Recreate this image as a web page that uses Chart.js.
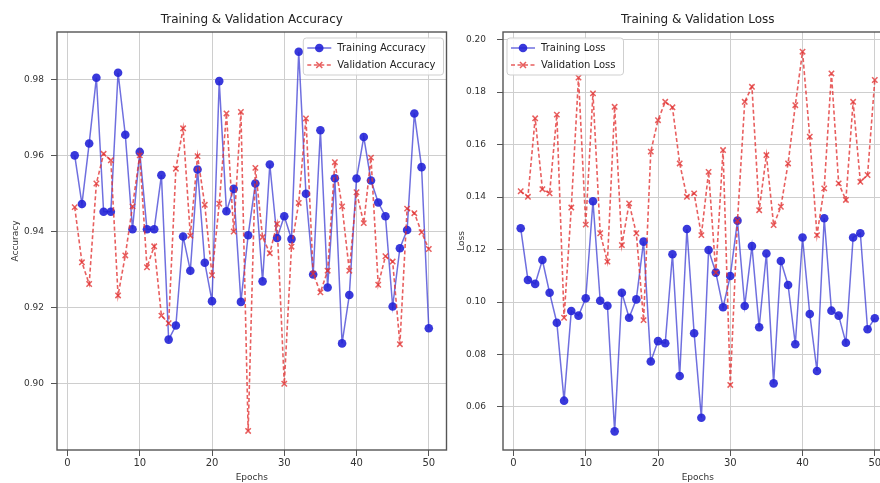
<!DOCTYPE html>
<html>
<head>
<meta charset="utf-8">
<script src="https://cdn.jsdelivr.net/npm/chart.js@4.4.1/dist/chart.umd.min.js"></script>
<style>
  html, body { margin: 0; padding: 0; background: #fff; overflow: hidden; }
  #wrap { position: relative; width: 880px; height: 483px; overflow: hidden; }
  canvas { position: absolute; top: 0; }
  #acc_chart { left: 0; }
  #loss_chart { left: 446px; }
</style>
</head>
<body>
<div id="wrap">
  <canvas id="acc_chart" width="452" height="483"></canvas>
  <canvas id="loss_chart" width="452" height="483"></canvas>
</div>
<script>
const epochs = [1, 2, 3, 4, 5, 6, 7, 8, 9, 10, 11, 12, 13, 14, 15, 16, 17, 18, 19, 20,
  21, 22, 23, 24, 25, 26, 27, 28, 29, 30, 31, 32, 33, 34, 35, 36, 37, 38, 39, 40,
  41, 42, 43, 44, 45, 46, 47, 48, 49, 50]

const train_acc = [0.9600, 0.9472, 0.9631, 0.9804, 0.9452, 0.9452, 0.9817, 0.9654, 0.9406, 0.9609,
  0.9406, 0.9406, 0.9548, 0.9116, 0.9153, 0.9387, 0.9297, 0.9563, 0.9318, 0.9217,
  0.9795, 0.9453, 0.9512, 0.9215, 0.9390, 0.9526, 0.9269, 0.9576, 0.9383, 0.9440,
  0.9380, 0.9872, 0.9499, 0.9287, 0.9666, 0.9253, 0.9540, 0.9106, 0.9233, 0.9539,
  0.9648, 0.9534, 0.9476, 0.9440, 0.9203, 0.9356, 0.9404, 0.9710, 0.9569, 0.9146]

const val_acc = [0.9464, 0.9319, 0.9262, 0.9526, 0.9604, 0.9587, 0.9232, 0.9337, 0.9466, 0.9600,
  0.9306, 0.9361, 0.9179, 0.9159, 0.9565, 0.9671, 0.9389, 0.9598, 0.9470, 0.9285,
  0.9473, 0.9710, 0.9400, 0.9714, 0.8876, 0.9567, 0.9385, 0.9343, 0.9420, 0.9000,
  0.9360, 0.9475, 0.9697, 0.9289, 0.9240, 0.9297, 0.9582, 0.9466, 0.9297, 0.9503,
  0.9422, 0.9594, 0.9260, 0.9335, 0.9321, 0.9104, 0.9460, 0.9448, 0.9398, 0.9354]

const train_loss = [0.1281, 0.1084, 0.1069, 0.1160, 0.1035, 0.0921, 0.0624, 0.0966, 0.0948, 0.1014,
  0.1384, 0.1005, 0.0986, 0.0507, 0.1035, 0.0940, 0.1010, 0.1230, 0.0773, 0.0851,
  0.0843, 0.1182, 0.0718, 0.1278, 0.0881, 0.0559, 0.1198, 0.1112, 0.0980, 0.1099,
  0.1310, 0.0985, 0.1213, 0.0904, 0.1185, 0.0690, 0.1156, 0.1065, 0.0839, 0.1246,
  0.0954, 0.0737, 0.1319, 0.0967, 0.0948, 0.0845, 0.1246, 0.1262, 0.0896, 0.0938]

const val_loss = [0.1422, 0.1401, 0.1700, 0.1430, 0.1414, 0.1714, 0.0940, 0.1360, 0.1855, 0.1295,
  0.1795, 0.1262, 0.1154, 0.1744, 0.1217, 0.1376, 0.1262, 0.0931, 0.1573, 0.1693,
  0.1763, 0.1742, 0.1528, 0.1401, 0.1414, 0.1255, 0.1496, 0.1112, 0.1579, 0.0684,
  0.1310, 0.1763, 0.1820, 0.1350, 0.1560, 0.1293, 0.1363, 0.1528, 0.1750, 0.1954,
  0.1630, 0.1255, 0.1433, 0.1871, 0.1452, 0.1389, 0.1763, 0.1458, 0.1484, 0.1846]

const x_ticks = [0, 10, 20, 30, 40, 50]
const acc_ticks = [0.90, 0.92, 0.94, 0.96, 0.98]
const loss_ticks = [0.06, 0.08, 0.10, 0.12, 0.14, 0.16, 0.18, 0.20]

const FONT = '"DejaVu Sans", sans-serif'
const BLUE_LINE = 'rgba(55, 55, 210, 0.72)'
const BLUE_DOT = 'rgba(35, 35, 215, 0.9)'
const RED = 'rgba(226, 50, 50, 0.78)'

function to_points(values) {
  return values.map((v, i) => ({ x: epochs[i], y: v }))
}

// frame, title and matplotlib-like legend box
const frame_and_legend = {
  id: 'frame_and_legend',
  afterDraw(chart, args, opts) {
    const ctx = chart.ctx
    const area = chart.chartArea
    ctx.save()

    ctx.strokeStyle = '#555'
    ctx.lineWidth = 1.4
    ctx.strokeRect(area.left, area.top, area.right - area.left, area.bottom - area.top)

    ctx.fillStyle = '#222'
    ctx.font = '12px ' + FONT
    ctx.textAlign = 'center'
    ctx.textBaseline = 'middle'
    ctx.fillText(opts.title, (area.left + area.right) / 2, 20)

    ctx.font = '10px ' + FONT
    const rows = chart.data.datasets
    const text_w = Math.max(...rows.map(d => ctx.measureText(d.label).width))
    const box_w = 4 + 24 + 6 + text_w + 8
    const box_h = 37
    const x0 = opts.corner === 'right' ? area.right - 3 - box_w : area.left + 4
    const y0 = area.top + 6

    ctx.beginPath()
    ctx.roundRect(x0, y0, box_w, box_h, 3)
    ctx.fillStyle = 'rgba(255,255,255,0.85)'
    ctx.fill()
    ctx.strokeStyle = '#cfcfcf'
    ctx.lineWidth = 1
    ctx.stroke()

    rows.forEach((d, i) => {
      const cy = y0 + 10 + i * 17
      const lx = x0 + 4
      ctx.beginPath()
      ctx.setLineDash(d.borderDash || [])
      ctx.strokeStyle = d.borderColor
      ctx.lineWidth = d.borderWidth
      ctx.moveTo(lx, cy)
      ctx.lineTo(lx + 24, cy)
      ctx.stroke()
      ctx.setLineDash([])
      if (d.pointStyle === 'crossRot') {
        ctx.beginPath()
        ctx.strokeStyle = d.pointBorderColor
        ctx.lineWidth = d.pointBorderWidth
        ctx.moveTo(lx + 9, cy - 3); ctx.lineTo(lx + 15, cy + 3)
        ctx.moveTo(lx + 15, cy - 3); ctx.lineTo(lx + 9, cy + 3)
        ctx.stroke()
      } else {
        ctx.beginPath()
        ctx.fillStyle = d.pointBackgroundColor
        ctx.arc(lx + 12, cy, d.pointRadius, 0, Math.PI * 2)
        ctx.fill()
      }
      ctx.fillStyle = '#222'
      ctx.textAlign = 'left'
      ctx.fillText(d.label, lx + 30, cy + 0.5)
    })
    ctx.restore()
  }
}

function make_datasets(train, val, train_label, val_label) {
  return [
    {
      label: train_label,
      data: to_points(train),
      borderColor: BLUE_LINE,
      borderWidth: 1.5,
      pointStyle: 'circle',
      pointRadius: 4.3,
      pointBackgroundColor: BLUE_DOT,
      pointBorderColor: BLUE_DOT,
      pointBorderWidth: 0,
      order: 1
    },
    {
      label: val_label,
      data: to_points(val),
      borderColor: RED,
      borderWidth: 1.6,
      borderDash: [4, 2.5],
      pointStyle: 'crossRot',
      pointRadius: 3.8,
      pointBorderColor: RED,
      pointBorderWidth: 1.5,
      order: 0
    }
  ]
}

function create_chart(elem_id, datasets, y_ticks, y_min, y_max, y_title, title, corner, tick_pad) {
  const ctx = document.getElementById(elem_id)
  return new Chart(ctx, {
    type: 'line',
    data: { datasets: datasets },
    options: {
      responsive: false,
      animation: false,
      events: [],
      layout: { padding: { left: 0, right: 5, top: 32, bottom: 0 } },
      scales: {
        x: {
          type: 'linear',
          min: -1.45,
          max: 52.45,
          afterBuildTicks: s => { s.ticks = x_ticks.map(v => ({ value: v })) },
          afterFit: s => { s.height = 33 },
          grid: { color: '#cecece', lineWidth: 1, tickColor: '#555', tickLength: 6 },
          border: { display: false },
          ticks: { color: '#333', font: { family: FONT, size: 10 }, padding: 1, maxRotation: 0 },
          title: { display: true, text: 'Epochs', color: '#333', font: { family: FONT, size: 9 }, padding: { top: 0, bottom: 0 } }
        },
        y: {
          min: y_min,
          max: y_max,
          afterBuildTicks: s => { s.ticks = y_ticks.map(v => ({ value: v })) },
          afterFit: s => { s.width = 57 },
          grid: { color: '#cecece', lineWidth: 1, tickColor: '#555', tickLength: 6 },
          border: { display: false },
          ticks: { color: '#333', font: { family: FONT, size: 9 }, padding: tick_pad, callback: v => v.toFixed(2) },
          title: { display: true, text: y_title, color: '#333', font: { family: FONT, size: 9 }, padding: { top: 10, bottom: 0 } }
        }
      },
      plugins: {
        legend: { display: false },
        tooltip: { enabled: false },
        frame_and_legend: { title: title, corner: corner }
      }
    },
    plugins: [frame_and_legend]
  })
}

create_chart('acc_chart', make_datasets(train_acc, val_acc, 'Training Accuracy', 'Validation Accuracy'),
  acc_ticks, 0.8826, 0.9924, 'Accuracy', 'Training & Validation Accuracy', 'right', 7)
create_chart('loss_chart', make_datasets(train_loss, val_loss, 'Training Loss', 'Validation Loss'),
  loss_ticks, 0.0436, 0.2029, 'Loss', 'Training & Validation Loss', 'left', 11)
</script>
</body>
</html>
